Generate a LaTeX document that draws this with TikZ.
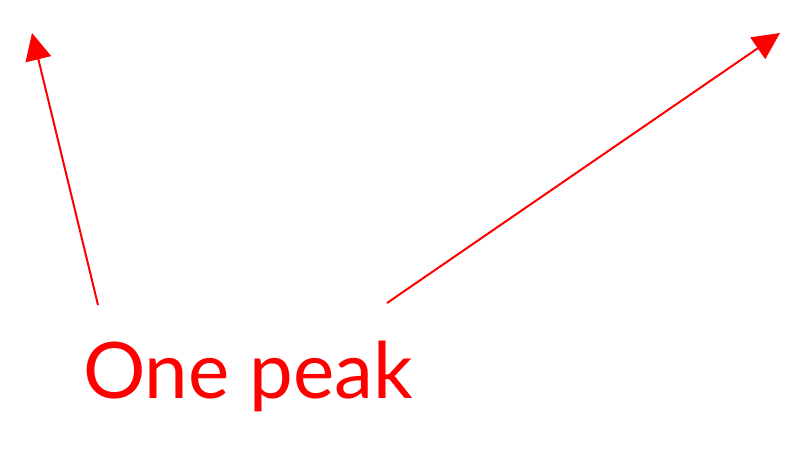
\documentclass[tikz,border=0pt]{standalone}
\usepackage{fontspec}
\setmainfont{Lato}
\usetikzlibrary{arrows.meta}
\definecolor{peakred}{RGB}{255,0,0}
\tikzset{
  peakarrow/.style={draw=peakred, line width=2pt, -{Triangle[length=27pt,width=26pt]}},
  peaklabel/.style={text=peakred, inner sep=0pt, anchor=base west, font=\fontsize{78}{90}\selectfont}
}
\begin{document}
\begin{tikzpicture}[x=1pt,y=-1pt]
\useasboundingbox (0,0) rectangle (811,472);
\node[peaklabel] (label) at (83,398) {One peak};
\coordinate (s1) at (98,305);
\coordinate (t1) at (32,33);
\coordinate (s2) at (387,303);
\coordinate (t2) at (780,33);
\draw[peakarrow] (s1) -- (t1);
\draw[peakarrow] (s2) -- (t2);
\end{tikzpicture}
\end{document}
